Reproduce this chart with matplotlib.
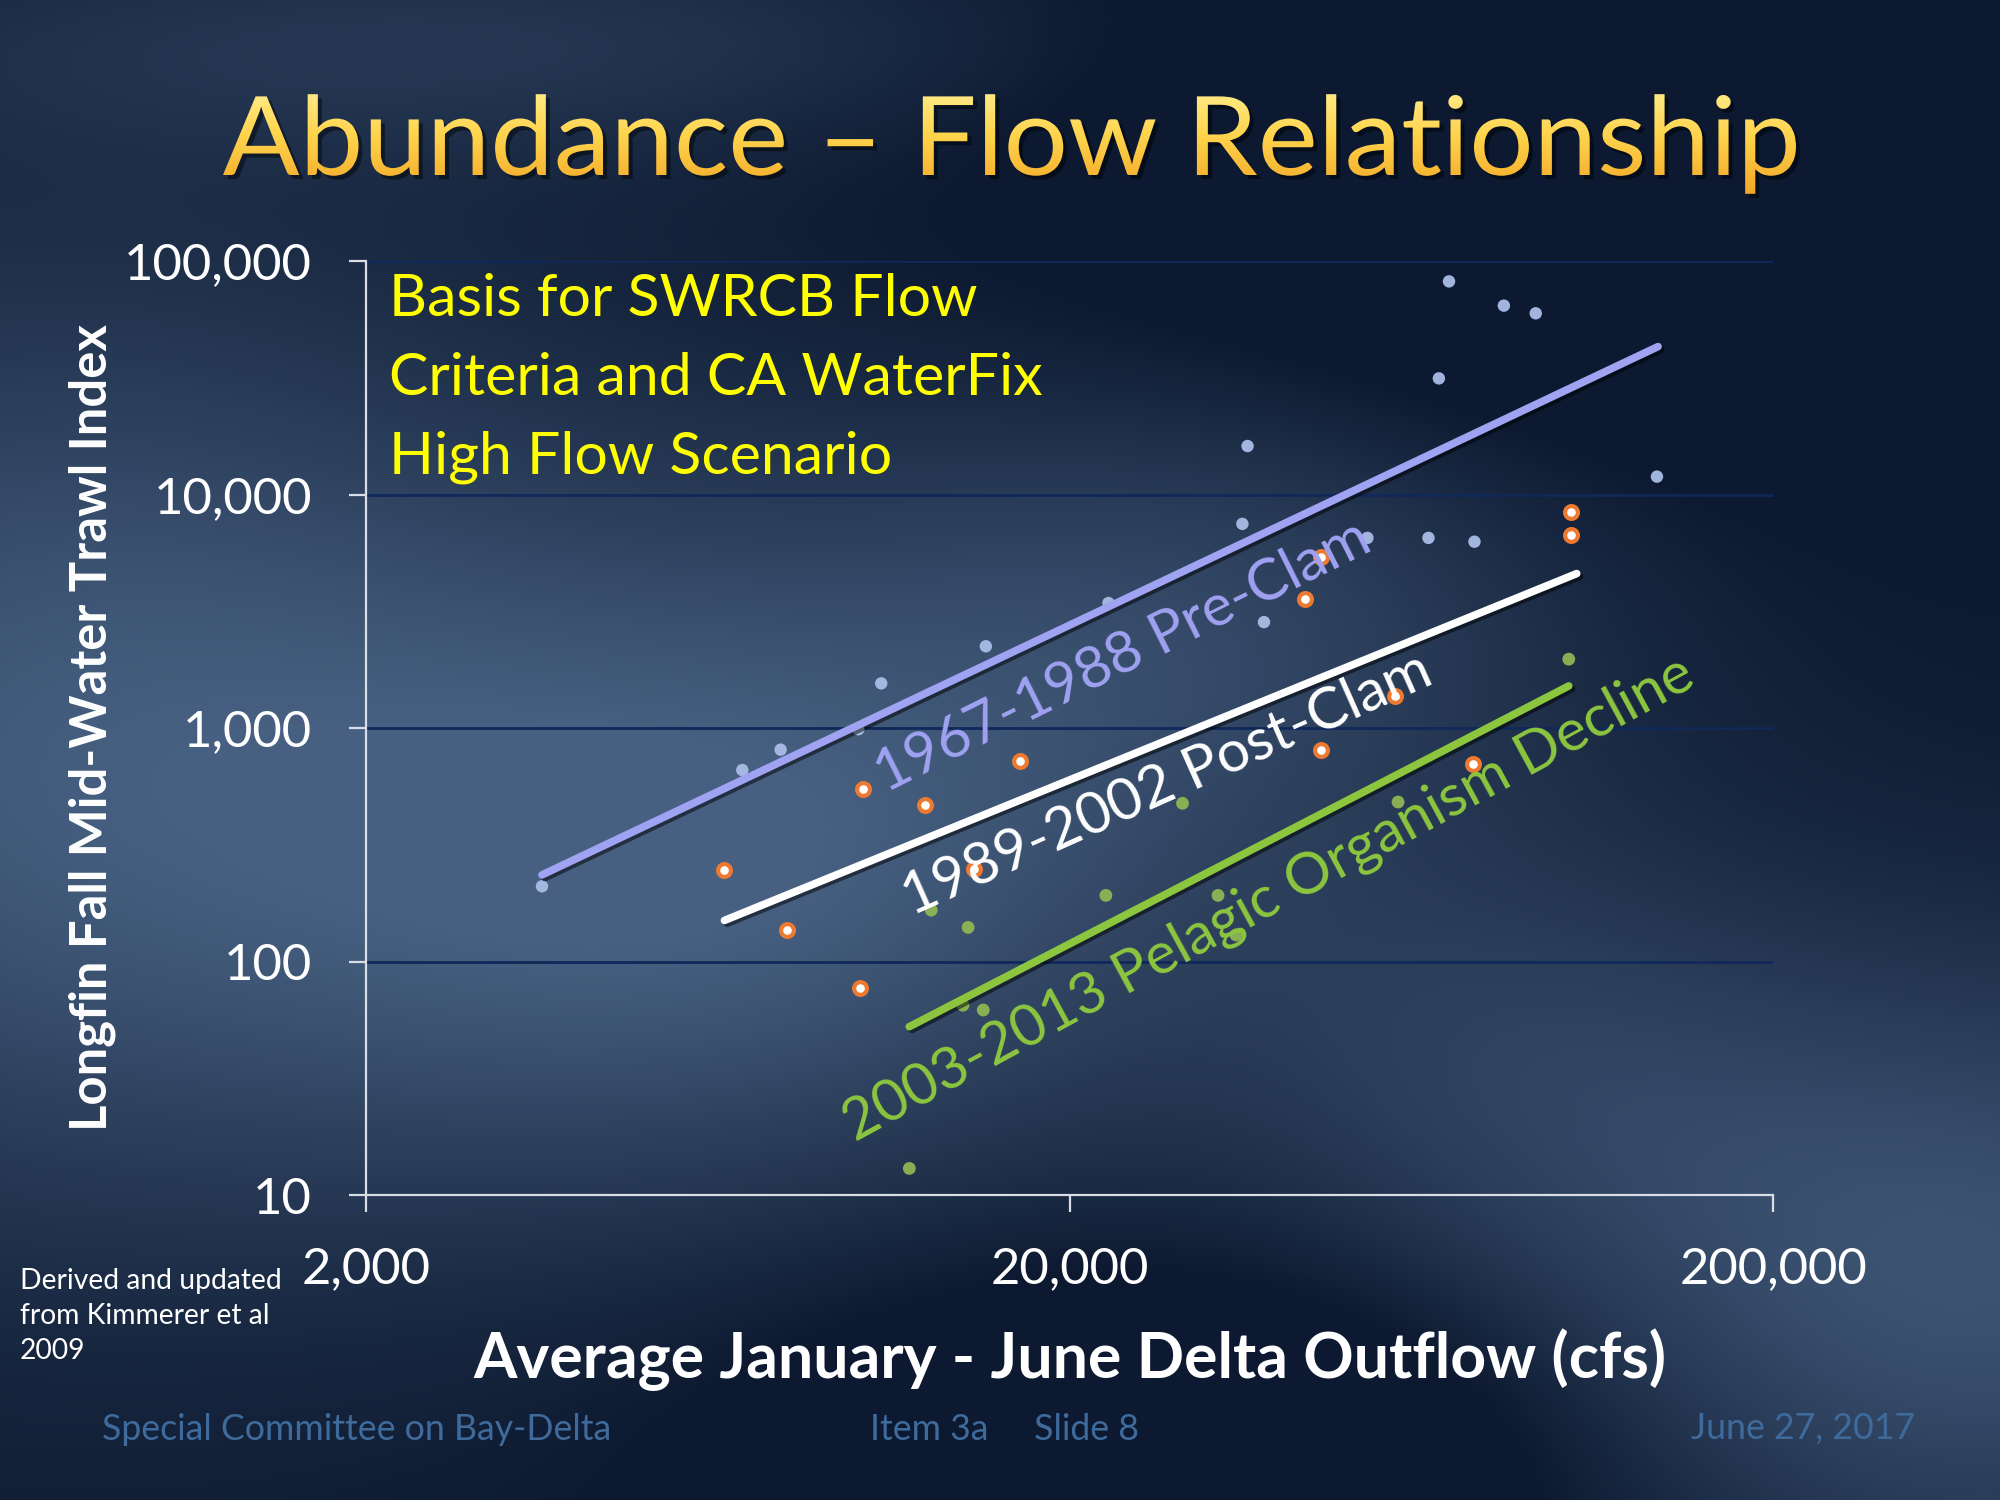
import numpy as np
import matplotlib
matplotlib.use("Agg")
import matplotlib.pyplot as plt
from matplotlib.textpath import TextPath
from matplotlib.font_manager import FontProperties
from matplotlib.patches import PathPatch
from matplotlib.transforms import Affine2D
import matplotlib.patheffects as pe

# ---------------- data ----------------
pre_x = [3558, 6854, 7770, 10020, 10800, 15210, 22720, 35220, 35820, 37800,
         53020, 64760, 75280, 67000, 69260, 82880, 92000, 136800]
pre_y = [210, 661, 808, 988, 1553, 2239, 3430, 7486, 16130, 2842,
         6520, 6520, 6280, 31430, 81800, 64400, 59700, 11930]

post_x = [6465, 7934, 10190, 12450, 10060, 17030, 14650, 45600, 43200, 45600,
          58100, 75000, 103400, 103400]
post_y = [247, 137, 547, 470, 77, 721, 250, 808, 3565, 5400,
          1370, 703, 8385, 6690]

pod_x = [11840, 12720, 14350, 15080, 14110, 22530, 28950, 32520, 34490, 58620, 102500]
pod_y = [13, 166, 140, 62, 65, 192, 476, 192, 130, 482, 1972]

# fitted trend lines (end points)
pre_fit_x = [3558, 137300]
pre_fit_y = [235, 43000]
post_fit_x = [6465, 105200]
post_fit_y = [150, 4585]
pod_fit_x = [11840, 102500]
pod_fit_y = [52.6, 1514]

x_ticks = [2000, 20000, 200000]
x_tick_labels = ["2,000", "20,000", "200,000"]
y_ticks = [10, 100, 1000, 10000, 100000]
y_tick_labels = ["10", "100", "1,000", "10,000", "100,000"]

title = "Abundance \u2013 Flow Relationship"
x_label = "Average January - June Delta Outflow (cfs)"
y_label = "Longfin Fall Mid-Water Trawl Index"
pre_label = "1967-1988 Pre-Clam"
post_label = "1989-2002 Post-Clam"
pod_label = "2003-2013 Pelagic Organism Decline"
note_text = "Basis for SWRCB Flow\nCriteria and CA WaterFix\nHigh Flow Scenario"
source_text = "Derived and updated\nfrom Kimmerer et al\n2009"
footer_left = "Special Committee on Bay-Delta"
footer_mid = "Item 3a     Slide 8"
footer_right = "June 27, 2017"

FONT = "Lato"
plt.rcParams["font.family"] = [FONT, "DejaVu Sans"]

W, H = 2000, 1500
fig = plt.figure(figsize=(20, 15), dpi=100)

# ---------------- background ----------------
bg = fig.add_axes([0, 0, 1, 1])
bg.set_xlim(0, W)
bg.set_ylim(0, H)
bg.axis("off")
yy, xx = np.mgrid[0:H:4, 0:W:4]
u = xx / W
v = 1 - yy / H  # 0 top -> 1 bottom

def blob(cx, cy, rx, ry, a):
    return a * np.exp(-(((u - cx) / rx) ** 2 + ((v - cy) / ry) ** 2))

t = (blob(0.02, 0.50, 0.30, 0.32, 0.85) + blob(0.38, 0.58, 0.25, 0.22, 0.80)
     + blob(0.98, 0.85, 0.25, 0.22, 0.80) + blob(0.62, 0.40, 0.20, 0.16, 0.45)
     + blob(0.25, 0.03, 0.35, 0.08, 0.35) + blob(0.75, 0.70, 0.15, 0.15, 0.3))
t -= blob(0.60, 0.97, 0.20, 0.12, 0.55) + blob(0.85, 0.10, 0.28, 0.18, 0.6)
t = np.clip(t, 0, 1)
dark = np.array([0.05, 0.10, 0.19])
light = np.array([0.28, 0.38, 0.51])
img = dark[None, None, :] + t[..., None] * (light - dark)[None, None, :]
bg.imshow(img, extent=[0, W, 0, H], origin="lower", aspect="auto", zorder=0)

# ---------------- gradient title ----------------
fp = FontProperties(family=FONT, weight="normal")
tp = TextPath((0, 0), title, prop=fp, size=100)
ext = tp.get_extents()
cap_h = 79.0
sy = cap_h / 72.0   # Lato cap height ~0.72 em at size 100
target_w = 1573.0
sx = target_w / ext.width
left_x, base_y = 223.0, H - 175.0
tr = Affine2D().translate(-ext.x0, 0).scale(sx, sy).translate(left_x, base_y)
path = tr.transform_path(tp)
shadow = PathPatch(Affine2D().translate(4, -4).transform_path(path), facecolor="black",
                   edgecolor="none", alpha=0.45, zorder=2)
bg.add_patch(shadow)
grad = np.linspace(0, 1, 256)[:, None]
c_top = np.array([1.0, 0.97, 0.66])
c_mid = np.array([1.0, 0.83, 0.30])
c_bot = np.array([0.94, 0.62, 0.12])
gcol = np.where(grad[..., None] < 0.5,
                c_top + (c_mid - c_top) * (grad[..., None] / 0.5),
                c_mid + (c_bot - c_mid) * ((grad[..., None] - 0.5) / 0.5))
gcol = np.repeat(gcol, 4, axis=1)
pb = path.get_extents()
im = bg.imshow(gcol, extent=[pb.x0 - 5, pb.x1 + 5, base_y - 30, base_y + cap_h + 30],
               origin="upper", aspect="auto", zorder=3)
clip = PathPatch(path, facecolor="none", edgecolor="none", transform=bg.transData)
bg.add_patch(clip)
im.set_clip_path(clip)
bg.set_xlim(0, W)
bg.set_ylim(0, H)

# ---------------- main axes ----------------
ax = fig.add_axes([0.183, 0.2033, 0.7035, 0.6227])
ax.patch.set_alpha(0)
ax.set_xscale("log")
ax.set_yscale("log")
ax.set_xlim(2000, 200000)
ax.set_ylim(10, 100000)
ax.minorticks_off()
ax.set_xticks(x_ticks)
ax.set_xticklabels(x_tick_labels)
ax.set_yticks(y_ticks)
ax.set_yticklabels(y_tick_labels)
ax.tick_params(axis="both", colors="#d8dde6", labelcolor="white", labelsize=36.5,
               width=1.6, length=12)
ax.tick_params(axis="x", pad=25)
ax.tick_params(axis="y", pad=27)
for s in ["top", "right"]:
    ax.spines[s].set_visible(False)
for s in ["left", "bottom"]:
    ax.spines[s].set_color("#d8dde6")
    ax.spines[s].set_linewidth(1.6)
ax.yaxis.grid(True, color="#10285a", linewidth=2.0)
ax.set_axisbelow(True)

ax.set_xlabel(x_label, color="white", fontsize=45, fontweight="bold", labelpad=26)
ax.set_ylabel(y_label, color="white", fontsize=36.5, fontweight="bold")
ax.yaxis.set_label_coords(-0.178, 0.5)

shadow_fx = [pe.SimpleLineShadow(offset=(2, -2), shadow_color="black", alpha=0.5), pe.Normal()]

# scatter points
ax.scatter(pre_x, pre_y, s=80, color="#a9bde6", edgecolors="none", zorder=3, alpha=0.95)
ax.scatter(post_x, post_y, s=85, facecolor="white", edgecolors="#ee7a32", linewidths=3.0, zorder=3)
ax.scatter(pod_x, pod_y, s=85, color="#8fb553", edgecolors="none", zorder=3, alpha=0.95)

# trend lines
ax.plot(pre_fit_x, pre_fit_y, color="#a0a2f2", lw=5.5, solid_capstyle="round", zorder=4,
        path_effects=shadow_fx)
ax.plot(post_fit_x, post_fit_y, color="white", lw=5.5, solid_capstyle="round", zorder=4,
        path_effects=shadow_fx)
ax.plot(pod_fit_x, pod_fit_y, color="#8cc63f", lw=5.5, solid_capstyle="round", zorder=4,
        path_effects=shadow_fx)

# rotated line labels
ax.text(23780, 2023, pre_label, color="#a0a2f2", fontsize=42, rotation=26.5,
        ha="center", va="center", rotation_mode="anchor", zorder=5)
ax.text(27520, 575, post_label, color="white", fontsize=42, rotation=24,
        ha="center", va="center", rotation_mode="anchor", zorder=5)
ax.text(38440, 185, pod_label, color="#8cc63f", fontsize=42, rotation=28.5,
        ha="center", va="center", rotation_mode="anchor", zorder=5)

# yellow note
ax.text(0.016, 0.987, note_text, transform=ax.transAxes, color="#ffff00", fontsize=42.5,
        ha="left", va="top", linespacing=1.60, zorder=5)

# ---------------- slide texts ----------------
fig.text(20 / W, 1 - 1268 / H, source_text, color="white", fontsize=20.3,
         ha="left", va="top", linespacing=1.42)
foot_col = "#3f6b9c"
fig.text(102 / W, 1 - 1429 / H, footer_left, color=foot_col, fontsize=25.7, ha="left", va="center")
fig.text(870 / W, 1 - 1429 / H, footer_mid, color=foot_col, fontsize=25.7, ha="left", va="center")
fig.text(1915 / W, 1 - 1429 / H, footer_right, color=foot_col, fontsize=25.7, ha="right", va="center")

fig.savefig("out.png", dpi=100)
